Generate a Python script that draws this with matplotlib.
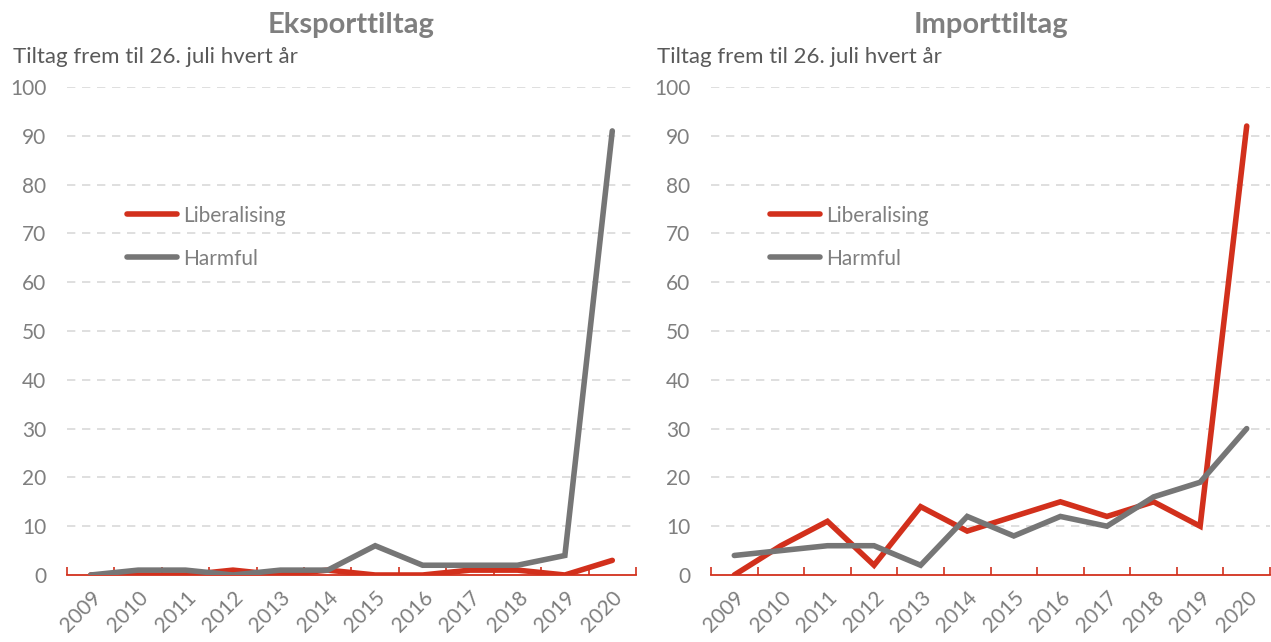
"""
Eksport- og importtiltag 2009-2020, liberalising vs harmful.
"""

import numpy as np
import matplotlib.pyplot as plt

#------------------------------------
#Data
#------------------------------------

years = ['2009', '2010', '2011', '2012', '2013', '2014',
         '2015', '2016', '2017', '2018', '2019', '2020']

eksport_liberalising = [0, 0, 0, 1, 0, 1, 0, 0, 1, 1, 0, 3]
eksport_harmful = [0, 1, 1, 0, 1, 1, 6, 2, 2, 2, 4, 91]

import_liberalising = [0, 6, 11, 2, 14, 9, 12, 15, 12, 15, 10, 92]
import_harmful = [4, 5, 6, 6, 2, 12, 8, 12, 10, 16, 19, 30]

titles = ['Eksporttiltag', 'Importtiltag']
subtitle = 'Tiltag frem til 26. juli hvert år'
series_names = ['Liberalising', 'Harmful']

#------------------------------------
#Styling
#------------------------------------

RED = '#d2301c'
GREY = '#767676'
TXT = '#7f7f7f'
plt.rcParams['font.family'] = ['Lato', 'DejaVu Sans']

fig = plt.figure(figsize=(12.71, 6.42), dpi=100)
W, H = 1271, 642
# axes rectangles in pixel coordinates (left, right)
boxes = [(67, 636), (711, 1270)]
bottom, top = 575, 87

panels = [(eksport_liberalising, eksport_harmful),
          (import_liberalising, import_harmful)]

x = np.arange(len(years))
for k, ((x0, x1), (lib, harm)) in enumerate(zip(boxes, panels)):
    ax = fig.add_axes([x0/W, 1-bottom/H, (x1-x0)/W, (bottom-top)/H])
    ax.plot(x, lib, c=RED, lw=4, solid_capstyle='round',
            solid_joinstyle='miter', label=series_names[0], zorder=3)
    ax.plot(x, harm, c=GREY, lw=4, solid_capstyle='round',
            solid_joinstyle='miter', label=series_names[1], zorder=3)

    ax.set_xlim(-0.5, len(years)-0.5)
    ax.set_ylim(0, 100)
    ax.set_yticks(np.arange(0, 101, 10))
    ax.set_xticks(x)
    ax.set_xticklabels(years, rotation=45, ha='right', rotation_mode='anchor')
    ax.set_xticks(np.arange(-0.5, len(years)), minor=True)
    ax.tick_params(axis='x', which='major', length=0, pad=9,
                   labelsize=15, labelcolor=TXT)
    ax.tick_params(axis='x', which='minor', length=6, width=1.2,
                   direction='in', color=RED)
    ax.tick_params(axis='y', length=0, pad=15, labelsize=15, labelcolor=TXT)

    for s in ['top', 'right', 'left']:
        ax.spines[s].set_visible(False)
    ax.spines['bottom'].set_color(RED)
    ax.spines['bottom'].set_linewidth(1.3)

    for yv in range(10, 101, 10):
        ax.axhline(yv, color='#d9d9d9', lw=1.2, ls=(0, (5, 4)), zorder=1)

    ax.legend(loc='upper left', bbox_to_anchor=(0.072, 0.795), frameon=False,
              fontsize=15, handlelength=2.4, handletextpad=0.3,
              labelspacing=1.1, labelcolor=TXT)

    cx = (x0 + x1) / 2
    fig.text(cx/W, 1-25/H, titles[k], ha='center', va='center',
             fontsize=21, fontweight='bold', color=TXT)
    fig.text((x0 - 54)/W, 1-57/H, subtitle, ha='left', va='center',
             fontsize=16, color='#595959')

plt.savefig('out.png', dpi=100)
